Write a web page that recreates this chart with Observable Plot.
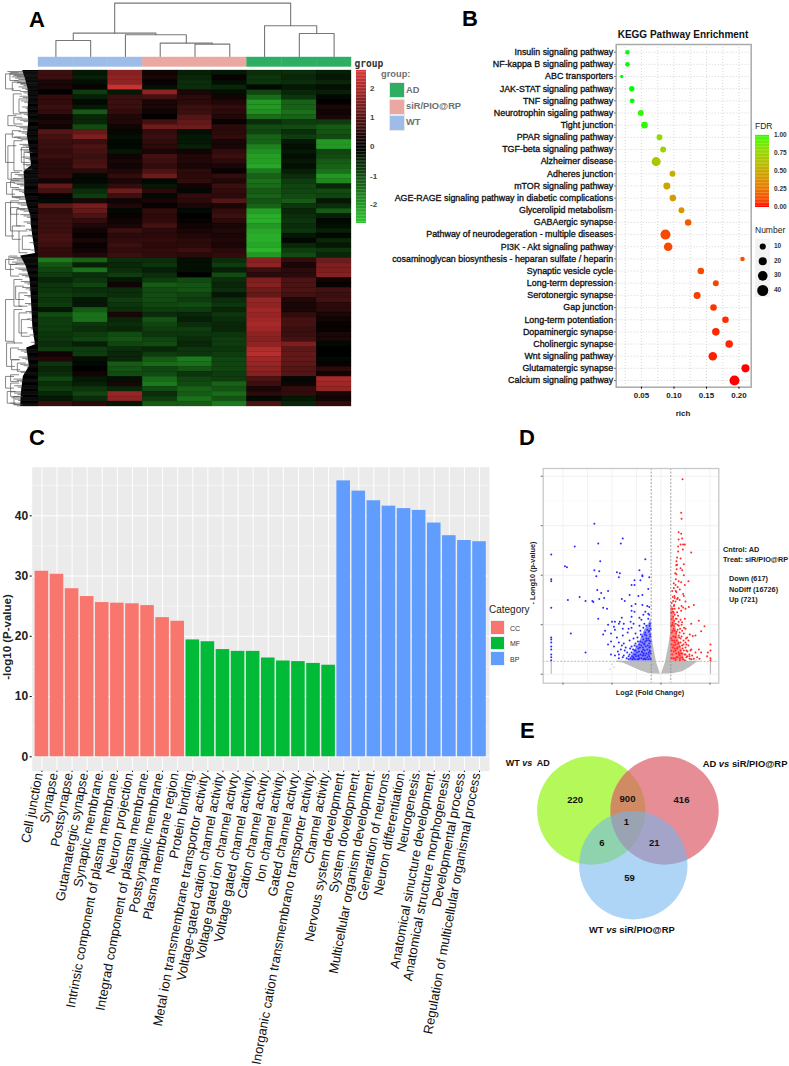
<!DOCTYPE html>
<html><head><meta charset="utf-8">
<script src="https://cdn.jsdelivr.net/npm/d3@7"></script>
<script src="https://cdn.jsdelivr.net/npm/@observablehq/plot@0.6"></script>
<style>
html,body{margin:0;padding:0;background:#fff}
#root{position:relative;width:789px;height:1066px;overflow:hidden;font-family:"Liberation Sans",Arial,sans-serif}
#root svg{position:absolute;display:block}
.t{position:absolute;white-space:pre;line-height:1}
</style></head><body><div id="root"></div>
<script>
// ---------- Panel A data ----------
const heatCols=["WT1","WT2","WT3","S1","S2","S3","AD1","AD2","AD3"];
const heatRows=[
[7,-3,16,2,-4,-3,-6,-6,-4],[7,-4,17,3,-5,1,-7,-5,-3],[3,-2,17,1,-6,-2,-7,-6,-5],[3,1,24,-2,-6,-5,-1,-3,-2],
[0,-8,-3,17,3,-2,-9,-5,-4],[6,-4,7,8,5,2,-14,-7,-1],[6,-1,7,3,5,4,-20,-13,0],[7,-3,7,3,7,6,-20,-13,3],
[6,-12,6,2,7,5,-19,-15,2],[2,-5,4,0,10,4,-14,-13,3],[3,-5,4,8,12,1,-6,-8,-8],[2,-10,2,13,13,5,-10,-10,-12],
[10,12,-1,6,-2,5,-9,-6,-11],[8,15,-2,7,-3,6,-13,-8,-10],[7,7,-1,6,-3,3,-13,-3,-20],[7,9,-1,5,-4,3,-17,-2,-20],
[6,8,-3,3,2,6,-19,-3,-9],[7,7,2,8,4,7,-21,-2,-10],[5,8,3,7,4,5,-21,-3,-12],[5,9,2,6,3,3,-22,-2,-13],
[5,5,4,9,5,1,-16,-4,-15],[6,-1,6,13,5,6,-13,-6,-20],[2,-1,3,-1,6,4,-15,-8,-18],[12,-3,6,-3,2,7,-14,-9,-5],
[8,-6,13,5,-1,6,-12,-9,-10],[1,-8,7,-1,6,5,-13,-10,-9],[-1,3,2,3,5,10,-11,-12,-3],[11,14,4,1,3,3,-13,-7,-6],
[6,12,-1,6,-1,6,-21,-5,-12],[7,9,1,5,0,7,-23,-6,-4],[7,6,2,6,1,5,-23,-7,-1],[7,4,3,8,2,3,-20,-6,-2],
[7,2,7,5,3,4,-22,-7,-4],[8,1,5,5,4,3,-23,-3,-1],[8,3,6,6,5,4,-23,-1,-5],[7,1,7,5,5,3,-22,-5,-3],
[6,2,6,6,7,5,-24,-8,-7],[6,4,7,6,5,6,-20,-10,-5],[-16,-13,-6,-6,-2,-6,16,6,13],[-11,-4,-5,-7,-2,-8,17,3,15],
[-9,-15,-6,-4,-2,-4,7,5,15],[-8,-6,-8,-6,0,-10,5,5,16],[-5,-7,-3,-8,-10,-6,15,9,2],[-7,-9,2,-12,-11,-5,16,9,1],
[-7,-6,-6,-10,-11,-6,13,9,8],[-8,-7,-6,-10,-9,-3,12,8,7],[-7,-3,-8,-10,-8,-6,18,4,8],[-8,-3,-7,-9,-10,-7,17,3,5],
[-3,-12,-6,-8,-8,-5,19,3,5],[-10,-15,3,-6,-5,-7,18,6,3],[-8,-15,-5,-11,-4,-6,19,8,2],[-8,-7,-6,-9,-6,-5,20,8,1],
[-8,-6,-5,-8,-8,-5,19,7,1],[-7,-8,-10,-7,-7,-7,17,7,3],[-7,-9,-11,-9,-6,-8,16,8,3],[-6,-4,-9,-10,-5,-8,17,15,-1],
[-8,-8,-6,-5,-7,-7,21,11,0],[2,-8,-5,-8,-7,-8,22,12,0],[4,-2,-5,-12,-16,-9,19,12,-1],[-7,-1,-12,-14,-15,-9,18,11,1],
[-5,0,-11,-9,-11,-9,17,10,5],[-6,2,-10,-10,-7,-8,16,10,2],[-9,-3,-2,-14,-9,-8,9,-1,20],[-6,-4,3,-16,-10,-13,7,2,19],
[-8,-7,-5,-10,-13,-11,3,6,18],[-5,-9,18,-6,-12,-14,5,6,3],[-3,-6,17,-8,-15,-11,-1,-3,2],[7,5,-3,-12,-12,-16,9,-5,6]];
const groupNames=["WT","WT","WT","siR/PIO@RP","siR/PIO@RP","siR/PIO@RP","AD","AD","AD"];
const groupColors=["#9dbde8","#eba7a2","#2dae62"];
const heatGradient=["#2fc42f","#000000","#d93636"];
// column dendrogram: [x of left child, height left, x of right child, height right, join height]
const colTree=[[0,0,1,0,16],[4,0,5,0,12.4],[3,0,4.5,12.4,13.4],[2,0,3.75,13.4,21.7],[0.5,16,2.875,21.7,23.4],
[7,0,8,0,23],[6,0,7.5,23,30.7],[1.69,23.4,6.75,30.7,53.4]];
// row dendrogram brackets: [depth, row from, row to]
const rowTree=[[15,25,70],[28,22,45],[35,50,75],[38,85,145],[55,100,140],[22,150,180],[40,155,175],[15,205,290],[35,195,215],
[22,240,340],[40,225,315],[62,245,290],[70,260,310],[32,320,345],[18,350,385],[30,345,365],[35,370,395],[15,410,510],[30,405,445],
[30,425,495],[48,430,480],[35,480,520],[55,495,560],[65,510,550],[15,580,610],[25,570,595],[30,595,630],[15,700,825],[40,640,720],
[45,660,700],[55,680,720],[40,730,830],[55,740,800],[62,760,810],[30,845,880],[18,830,900],[33,880,910],[50,890,915],[15,930,965],
[30,925,945],[20,975,1010],[30,950,990],[40,990,1015]];
const combRow=[15,40,70,100,135,170,210,260,300,318,345,385,420,450,480,510,535,562,570,600,640,700,780,835,845,900,930,980,1020];
const combEdge=[66,74,82,84,82,84,80,88,92,70,72,72,80,90,92,96,100,104,60,76,88,92,96,104,78,86,68,62,60];
const hairRow=[18,26,34,46,52,64,78,92,106,124,142,160,182,198,214,236,252,274,296,312,326,338,352,372,392,410,428,446,468,490,508,530,552,574,588,606,624,646,664,688,712,736,758,784,806,828,850,872,894,918,938,958,976,994,1010];
const hairEdge=[22,30,35,42,50,55,60,58,62,66,60,50,48,55,42,58,60,65,68,70,44,38,40,46,36,42,50,60,70,76,82,88,92,30,36,45,55,62,66,72,74,76,80,82,88,92,52,56,60,62,40,42,32,34,30];

// ---------- Panel B data ----------
const pathways=["Insulin signaling pathway","NF-kappa B signaling pathway","ABC transporters","JAK-STAT signaling pathway","TNF signaling pathway","Neurotrophin sigaling pathway","Tight junction","PPAR signaling pathway","TGF-beta signaling pathway","Alzheimer disease","Adheres junction","mTOR signaling pathway","AGE-RAGE signaling pathway in diabetic complications","Glycerolipid metabolism","GABAergic synapse","Pathway of neurodegeration - multiple diseases","PI3K - Akt signaling pathway","cosaminoglycan biosynthesis - heparan sulfate / heparin","Synaptic vesicle cycle","Long-term depression","Serotonergic synapse","Gap junction","Long-term potentiation","Dopaminergic synapse","Cholinergic synapse","Wnt signaling pathway","Glutamatergic synapse","Calcium signaling pathway"];
const rich=[.0285,.0285,.0197,.0351,.0356,.049,.0546,.0777,.0833,.0726,.0977,.089,.0982,.1115,.1218,.0869,.091,.2054,.1413,.1644,.1356,.1608,.1792,.1644,.1849,.1597,.21,.1931];
const numberOfGenes=[4,4,1,7,5,9,12,9,9,26,9,14,12,9,12,33,23,4,12,9,14,12,12,17,17,23,20,33];
const fdr=[1,1,1,1,1,.98,.98,.78,.72,.65,.5,.45,.42,.38,.15,.1,.1,.12,.1,.08,.07,.05,.04,.03,.03,.02,0,0];
const numberKey=[10,20,30,40];
const fdrTicks=[1,.75,.5,.25,0];

// ---------- Panel C data ----------
const goTerms=["Cell junction","Synapse","Postsynapse","Gutamatergic synapse","Synaptic membrane","Intrinsic component of plasma membrane","Neuron projection","Integrad component of plasma membrane","Postsynapilic membrane","Plasma membrane region","Protein binding","Metal ion transmembrane transportor activity","Voltage-gated cation channel activity","Voltage gated ion channel activty","Voltage gated channel activity","Cation channel actvity","Ion channel activity","Gated channel activty","Inorganic cation transmembrano transporter activity","Channel activity","Nervous system development","System dovelopment","Multicellular organism development","Generation of neurons","Neuron differentiation","Neurogenesis","Anatomical sinucture development","Anatomical structure morphogenesis","Developmental process","Regulation of multicellular organismal process"];
const goValues=[30.8,30.3,27.9,26.6,25.6,25.5,25.4,25.1,23.1,22.5,19.4,19.1,17.8,17.5,17.5,16.4,15.9,15.8,15.5,15.2,45.8,44.1,42.5,41.6,41.2,40.9,38.8,36.7,35.9,35.7];
const goCats=["CC","MF","BP"];
const goColors=["#F8766D","#00BA38","#619CFF"];

// ---------- Panel D data ----------
const downX=[-6.8,-3.9,-6.4,-4.1,-8.8,-11.2,-6.2,-1.6,-9.8,-9.6,-6.8,-6.3,-2.2,-4.5,-4.2,-1.9,-11.2,-11.2,-6.6,-4.3,-1.9,-2.7,-2.1,-1.2,-3,-2.7,-1.3,-6.5,-5.4,-6.1,-8.3,-9.5,-7.7,-7,-6.9,-6.3,-5.8,-4,-3.7,-3.2,-2.3,-1.9,-11.2,-5.9,-5.5,-3,-2.6,-1.9,-1.4,-1.2,-3,-2.7,-1.6,-1.3,-6.4,-5,-4.7,-4.2,-4,-3,-2.2,-1.8,-1.2,-5.4,-4.8,-4.3,-3.8,-3.1,-2.8,-2,-1.7,-1.3,-9.2,-5.7,-5.9,-5.1,-4.7,-3.9,-3.3,-3,-2.2,-1.8,-1.5,-1.1,-4.5,-3.9,-3.4,-2.6,-2.1,-1.6,-1.2,-11.2,-11.2,-11.2,-11.2,-11.2,-11.2,-11.2,-11.2,-5.1,-5.4,-4.3,-3.8,-3.2,-2.8,-2.4,-1.9,-1.5,-1.1,-4.8,-4.1,-3.6,-3,-2.6,-2.1,-1.7,-1.2,-7.7,-5.1,-4.7,-4.3,-3.8,-3.2,-2.7,-2.3,-1.8,-1.2,-4.3,-3.3,-2.8,-2.3,-1.8,-1.3,-1.1,-2.3,-1.6,-1.1,-1.9,-2.6,-2.9];
const downY=[15.2,13.7,13.2,13.2,12.9,12.1,11.4,11.6,10.9,10.8,10.5,10.4,10.5,10.3,10.2,10,9.6,9.4,9.9,9.8,9.9,9.5,9.5,9.8,9,9,8.6,8.5,8.4,8.2,7.8,7.5,7.4,7.4,7.3,7.6,7.7,7.6,7.4,8,7.9,8,6.7,6.7,6.6,6.9,7.1,7,6.9,6.8,6.4,6.3,6.3,6.1,5.6,5.3,5.3,5.3,5.7,5.8,5.7,6,6,5,4.8,5.1,5.1,5.3,5.1,5.5,5.1,5.6,4.1,4.4,4,4.1,4.5,4.6,4.6,4.7,4.9,4.7,4.9,5.1,3.7,3.9,4.2,4.1,4.4,4.2,4.4,3.7,3.5,3.2,2.8,2.5,2,1.7,1.4,3.3,3,3.2,3.1,3.4,3.6,3.7,3.8,3.6,4,2.8,2.5,2.7,2.8,3.1,3.3,3.1,3.4,2.2,2,1.9,2,1.9,2,2.4,2.6,2.5,2.7,1.6,1.5,1.7,1.8,1.9,2,2.3,1.5,1.5,1.6,2.2,2,1.5];
const upX=[2.2,2.06,2.1,1.8,2.06,2.16,1.8,2,2.26,2.43,1.75,2.23,1.75,3.08,1.65,2,1.58,1.65,2.33,2,1.6,2.16,1.58,2.33,1.52,1.8,2.06,2.8,1.48,2.43,1.31,1.92,2.26,1.58,1.38,2.33,1.72,1.24,1.48,2.5,3.35,2.84,1.31,1.82,2.26,2.5,1.24,1.65,2.06,2.43,3.86,3.08,2.16,4.44,1.82,2.5,4.1,2.16,2.94,3.25,3.52,2.33,1.82,2.67,1.48,2.5,2.16,1.82,5.05,3.1,3.86,5.05,3.52,4.1,2.6,4.78,3.18,3.69,4.7,5.05,5.05,2.67,2.94,2.16,1.82,2.33,1.48,2,3.35,2.43,3.93,1.92,1.48,1.2,1.5,1.7,1.9,1.3,1.6,2,2.3,2.6,2.8,1.4,1.7,2.2,2.5,2.9,1.3,1.9,1.6,1.4,1.75,2,1.35,1.65,1.2];
const upY=[19.7,16.3,15.7,14.35,14.2,13.7,13.6,13.1,13.1,13.1,12.9,12.6,12.4,12.3,11.8,11.7,11.4,11.05,11.1,10.7,10.6,10.5,10.1,10,9.6,9.4,9.3,9.4,9,9,8.7,8.55,8.1,8.3,7.9,7.9,7.7,7.4,7.35,7.35,7,6.8,6.9,6.65,6.75,6.6,6.3,6.25,6.4,5.6,5.4,5.1,5.25,4.85,4.9,4.6,4.35,4.4,4,3.85,3.9,4.1,3.9,3.7,3.7,3.2,2.9,3.2,3,2.5,2.5,2.4,2.2,2.2,2.4,2.2,1.9,1.7,1.8,1.6,1.4,1.8,1.55,1.7,2.05,2.4,2.4,2.4,1.55,1.4,1.55,1.4,1.4,5.2,5.6,5,4.2,4.6,4.3,3.6,3.4,3,2.9,3.2,2.7,2.1,2,2,2.9,1.9,1.7,6,5.9,5.5,7,7.6,6.6];
const moreDown=[[-1.05,4.6],[-1.05,3.3],[-1.05,2.1],[-1.05,1.5],[-1.1,3.8],[-1.1,2.8],[-1.15,4.9],[-1.15,2.4],[-1.2,3.1],[-1.2,1.8],[-1.25,4.3],[-1.25,2.2],[-1.3,3.6],[-1.3,1.5],[-1.35,2.9],[-1.4,4.5],[-1.4,2.5],[-1.4,1.7],[-1.45,3.4],[-1.5,2.1],[-1.5,3.9],[-1.55,1.5],[-1.55,2.8],[-1.6,3.3],[-1.6,1.9],[-1.65,4],[-1.65,2.4],[-1.7,1.6],[-1.7,3],[-1.75,2.1],[-1.8,3.5],[-1.8,1.5],[-1.85,2.7],[-1.9,1.9],[-1.9,3.2],[-1.95,2.3],[-2,1.6],[-2,2.9],[-2.05,4],[-2.1,2],[-2.15,2.7],[-2.2,1.6],[-2.2,3],[-2.25,2.3],[-2.3,1.9],[-2.35,3.3],[-2.4,1.5],[-2.45,2.2],[-2.5,2.8],[-2.55,1.8],[-2.6,2.4],[-2.65,1.5],[-2.7,2.9],[-2.75,2],[-2.8,1.6],[-2.85,2.5],[-2.95,1.8],[-3,2.2],[-3.1,1.6],[-3.15,2.6],[-3.3,1.8],[-3.45,2.2],[-3.5,1.6],[-3.7,2.4],[-3.9,1.7],[-4,2.9],[-4.4,2.3]];
const moreUp=[[1.05,6.2],[1.05,4.9],[1.05,3.6],[1.05,2.4],[1.05,1.6],[1.1,7.2],[1.1,5.6],[1.1,4.2],[1.1,3],[1.15,6.6],[1.15,5],[1.15,3.4],[1.15,2],[1.2,7.8],[1.2,4.4],[1.2,2.7],[1.25,5.8],[1.25,3.8],[1.25,1.6],[1.3,6.2],[1.3,4.9],[1.3,2.3],[1.35,5.4],[1.35,3.4],[1.4,6.6],[1.4,4.4],[1.4,2.6],[1.45,3.8],[1.45,1.6],[1.5,5.1],[1.5,3],[1.55,4.1],[1.55,2.1],[1.6,5.6],[1.6,3.4],[1.65,2.6],[1.7,4.5],[1.7,1.7],[1.75,3.1],[1.8,5.3],[1.8,2.2],[1.85,3.7],[1.9,2.8],[1.95,4.6],[1.95,1.6],[2,3.2],[2.05,2.1],[2.1,3.8],[2.1,5],[2.2,2.6],[2.25,1.5],[2.3,3],[2.35,4.7],[2.4,2],[2.5,2.7],[2.55,3.6],[2.6,1.7],[2.7,2.3],[2.8,3.4],[2.9,1.8],[3,2.4],[3.1,1.5],[1.15,8.4],[1.3,9.2],[1.5,8.4],[1.45,10.2],[1.7,8.8],[1.9,7.5],[2.1,6.9],[1.55,11],[1.4,7.7]];
const noDiffX=[-5,-4.8,-5.2,-4.4,-3.6,-4,3.6,3.9,2.8,3.2,2.4,1.6,2,-3,-3.4,2.6];
const noDiffY=[1,.7,.5,1.3,1.45,1.5,1.45,1.3,1.6,1.5,1.7,1.5,1.8,1.5,1.6,1.4];
const denseDownX=[-1,-1.3,-1.7,-2.2,-2.8,-3.2], denseDownY=[5.6,5,4.4,3.2,2.2,1.5];
const denseUpX=[1,1.2,1.5,1.8,2.1,2.4], denseUpY=[7,6.8,4.9,3.5,2.6,1.5];
const wingRX=[.05,.46,.8,1,1.001,1.2,2.2,3,3.7], wingRLo=[0,.02,.03,.04,.04,.05,.25,.7,1.2], wingRHi=[0,1.2,2.9,4.2,1.3,1.3,1.3,1.3,1.3];
const wingLX=[-.05,-.46,-.8,-1,-1.001,-1.2,-2.1,-3.8,-4.6], wingLLo=[0,.02,.03,.04,.04,.05,.36,1.1,1.25], wingLHi=[0,1.2,3,4.4,1.3,1.3,1.3,1.3,1.3];

// ---------- Panel E data ----------
const vennSets=[{name:"WT vs AD",cx:590.8,cy:810,c:"#B4F85A",a:1},{name:"AD vs siR/PIO@RP",cx:664,cy:810,c:"#DC5C6A",a:.7},{name:"WT vs siR/PIO@RP",cx:632.8,cy:864.7,c:"#71B5ED",a:.57}];
const vennCounts=[{n:"220",x:574.7,y:799},{n:"900",x:627,y:798},{n:"416",x:681,y:799},{n:"1",x:626,y:821.7},{n:"6",x:601.3,y:842.7},{n:"21",x:653.7,y:842.7},{n:"59",x:629,y:877.7}];

// ---------- helpers ----------
const root=document.getElementById("root");
const FONT='"Liberation Sans",Arial,sans-serif';
const style={background:"transparent",fontFamily:FONT,overflow:"visible"};
function place(el,left,top){el.style.left=left+"px";el.style.top=top+"px";root.append(el);return el;}
function T(x,y,s,o={}){const d=document.createElement("div");d.className="t";d.innerHTML=s;
 const ax=o.anchor==="end"?"-100%":o.anchor==="middle"?"-50%":"0";
 d.style.cssText+=`left:${x}px;top:${y}px;font-size:${o.size||8}px;font-weight:${o.weight||"normal"};color:${o.color||"#111"};font-family:${o.family||FONT};transform:translate(${ax},-50%)${o.rotate?` rotate(${o.rotate}deg)`:""};`;
 root.append(d);return d;}
function swatch(x,y,w,h,c,border){const d=document.createElement("div");d.style.cssText=`position:absolute;left:${x}px;top:${y}px;width:${w}px;height:${h}px;background:${c};${border?`box-sizing:border-box;border:1px solid ${border};`:""}`;root.append(d);}

// panel letters
[["A",29,20],["B",462,19],["C",29,438],["D",519,438],["E",520,731]].forEach(([s,x,y])=>T(x,y,s,{size:22,weight:"bold",color:"#000"}));

// ---------- A: column dendrogram ----------
const colLinks=colTree.flatMap((n,i)=>[{k:i,x:n[0],h:n[1]},{k:i,x:n[0],h:n[4]},{k:i,x:n[2],h:n[4]},{k:i,x:n[2],h:n[3]}]);
place(Plot.plot({width:313,height:56,margin:0,style,x:{domain:[-.5,8.5],range:[0,313],axis:null},y:{domain:[0,56],range:[56,0],axis:null},
 marks:[Plot.line(colLinks,{x:"x",y:"h",z:"k",stroke:"#777",strokeWidth:1.1,curve:"linear"})]}),38,0);
// group colour bar
place(Plot.plot({width:313,height:9.5,margin:0,style,x:{domain:heatCols,range:[0,313],padding:0,round:false,axis:null},y:{axis:null},
 color:{domain:["WT","siR/PIO@RP","AD"],range:groupColors},
 marks:[Plot.barY(heatCols.map((c,i)=>({c,g:groupNames[i]})),{x:"c",y:()=>1,fill:"g",insetLeft:0,insetRight:0,stroke:"g",strokeWidth:.4})]}),38,57);
// heat map
const heatData=heatRows.flatMap((r,i)=>r.map((v,j)=>({row:i,col:heatCols[j],v:v/10})));
const heatColor={type:"linear",domain:[-2.6,0,2.6],range:heatGradient,interpolate:"rgb"};
place(Plot.plot({width:313,height:336,margin:0,style:{...style,background:"#000"},
 x:{domain:heatCols,range:[0,313],padding:0,round:false,axis:null},y:{domain:heatRows.map((_,i)=>i),range:[0,336],padding:0,round:false,axis:null},color:heatColor,
 marks:[Plot.cell(heatData,{x:"col",y:"row",fill:"v",stroke:"v",strokeWidth:.3,inset:0})]}),38,70);
// row dendrogram
const rowLinks=rowTree.flatMap((b,i)=>{const e=Math.min(113,b[0]+24);return [{k:i,x:e,y:b[1]},{k:i,x:b[0],y:b[1]},{k:i,x:b[0],y:b[2]},{k:i,x:e,y:b[2]}];});
const hairs=[0,4,8].flatMap(o=>hairRow.map((r,i)=>({r:r+o,e:Math.min(110,hairEdge[i]+o*2.5)})));
place(Plot.plot({width:38,height:336,margin:0,style,x:{domain:[0,113],range:[0,38],axis:null},y:{domain:[15,1020],range:[0,336],axis:null},
 marks:[Plot.areaX(combRow.map((y,i)=>({y,e:combEdge[i]})),{y:"y",x1:"e",x2:()=>113,fill:"#000"}),
  Plot.ruleY(hairs,{y:"r",x1:"e",x2:()=>113,stroke:"#222",strokeWidth:.55}),
  Plot.line(rowLinks,{x:"x",y:"y",z:"k",stroke:"#555",strokeWidth:.7,curve:"linear"})]}),0,70);
// heat colour key
place(Plot.plot({width:10,height:153,margin:0,style,x:{domain:[0,1],range:[0,10],axis:null},y:{domain:[-2.6,2.65],range:[153,0],axis:null},color:heatColor,
 marks:[Plot.rect(d3.range(-2.6,2.65,.05),{x1:()=>0,x2:()=>1,y1:d=>d,y2:d=>d+.055,fill:d=>d})]}),356,70);
[[2,89],[1,118],[0,147],[-1,177],[-2,205]].forEach(([v,y])=>T(370,y,String(v),{size:8,weight:"bold",color:"#444"}));
T(354.5,63.5,"group",{size:9.6,weight:"bold",family:'"DejaVu Sans Mono",monospace',color:"#333"});
T(381,75,"group:",{size:9.3,weight:"bold",color:"#6f6f6f"});
groupColors.slice().reverse().forEach((c,i)=>swatch(388.5,82+i*16.5,16,16,c,"#e8e8e8"));
[["AD",90.5],["siR/PIO@RP",106.5],["WT",123]].forEach(([s,y])=>T(406,y,s,{size:9.3,weight:"bold",color:"#6f6f6f"}));

// ---------- B: bubble chart ----------
const bData=pathways.map((p,i)=>({p,rich:rich[i],n:numberOfGenes[i],fdr:fdr[i]}));
const fdrColor={type:"linear",domain:[0,1],range:["#ff0000","#00ff00"],interpolate:d3.interpolateLab};
const rScale={type:"pow",exponent:.6,domain:[0,40],range:[1.2,5.5]};
const minor=d3.range(.025,.22,.025);
const bPlot=Plot.plot({width:409,height:385,marginLeft:235.7,marginRight:38.3,marginTop:19,marginBottom:23.3,style,
 x:{domain:[.0111,.2188],axis:null},y:{type:"point",domain:pathways,range:[26.7,355],padding:0,round:false,axis:null},color:fdrColor,r:rScale,
 marks:[
  Plot.ruleX(minor,{stroke:"#ccc",strokeDasharray:"1,2",strokeWidth:.8}),
  Plot.ruleY(pathways,{stroke:"#ccc",strokeDasharray:"1,2",strokeWidth:.8}),
  Plot.dot(bData,{x:"rich",y:"p",r:"n",fill:"fdr"}),
  Plot.frame({stroke:"#aaa",strokeWidth:1.5}),
  Plot.axisY({anchor:"left",tickSize:1.5,tickPadding:1.5,fontSize:8.9,fill:"#111",stroke:"#555",label:null,ticks:pathways}),
  Plot.axisX({anchor:"bottom",ticks:[.05,.1,.15,.2],tickFormat:".2f",tickSize:2,tickPadding:3,fontSize:8,fontWeight:"bold",fill:"#222",label:null})
 ]});
d3.select(bPlot).selectAll('g[aria-label="y-axis tick label"] text').attr("stroke","#111").attr("stroke-width",.32);
place(bPlot,380,25);
T(683,35,"KEGG Pathway Enrichment",{size:10,weight:"bold",anchor:"middle"});
T(683,414,"rich",{size:8,weight:"bold",anchor:"middle",color:"#222"});
T(755,126,"FDR",{size:8.5,color:"#222"});
place(Plot.plot({width:14,height:72,margin:0,style,x:{domain:[0,1],range:[0,14],axis:null},y:{domain:[0,1],range:[72,0],axis:null},color:fdrColor,
 marks:[Plot.rect(d3.range(0,1,.02),{x1:()=>0,x2:()=>1,y1:d=>d,y2:d=>d+.022,fill:d=>d})]}),755,135);
fdrTicks.forEach(v=>T(774,135+(1-v)*72,v.toFixed(2),{size:6.5,weight:"bold",color:"#333"}));
T(755,230,"Number",{size:8.5,color:"#222"});
swatch(755,239,14.5,58,"#f2f2f2");
place(Plot.plot({width:14.5,height:58,margin:0,style,x:{domain:[0,1],range:[0,14.5],axis:null},y:{type:"point",domain:numberKey,range:[7,51],padding:0,round:false,axis:null},r:rScale,
 marks:[Plot.dot(numberKey,{x:()=>.5,y:d=>d,r:d=>d,fill:"#000"})]}),755,239);
numberKey.forEach((v,i)=>T(774,246+i*14.6,String(v),{size:6.5,weight:"bold",color:"#333"}));

// ---------- C: bars ----------
const cData=goTerms.map((t,i)=>({t,v:goValues[i],cat:goCats[Math.floor(i/10)]}));
const tenths=d3.range(0,50,10), fives=d3.range(5,50,10);
const cPlot=Plot.plot({width:500,height:606,marginLeft:31.7,marginRight:11,marginTop:6.7,marginBottom:295.3,style,
 x:{type:"band",domain:goTerms,range:[33.1,487.3],padding:.1,round:false,axis:null},y:{domain:[-2.39,48.07],axis:null},
 color:{domain:goCats,range:goColors},
 marks:[
  Plot.frame({fill:"#ebebeb",stroke:null}),
  Plot.ruleY(fives,{stroke:"#fff",strokeWidth:.5}),
  Plot.ruleY(tenths,{stroke:"#fff",strokeWidth:1}),
  Plot.ruleX(goTerms,{stroke:"#fff",strokeWidth:1}),
  Plot.barY(cData,{x:"t",y:"v",fill:"cat"}),
  Plot.axisY({ticks:tenths,tickSize:2,tickPadding:2,fontSize:12,fontWeight:"bold",fill:"#222",label:null}),
  Plot.axisX({ticks:goTerms,tickRotate:-79.5,tickSize:1.2,tickPadding:3.3,fontSize:13,fill:"#111",label:null})
 ]});
d3.select(cPlot).selectAll('g[aria-label="x-axis tick label"]').attr("transform","translate(4,2.5)");
place(cPlot,0,460);
T(7.5,637,"-log10 (P-value)",{size:11.5,weight:"bold",anchor:"middle",rotate:-90,color:"#222"});
T(489,610,"Category",{size:10,color:"#222"});
goColors.forEach((c,i)=>{swatch(490,620+i*15.6,14.5,14.5,c,"#f0f0f0");T(510,627.5+i*15.6,goCats[i],{size:7,color:"#333"});});

// ---------- D: volcano ----------
const zipXY=(xs,ys)=>xs.map((x,i)=>({x,y:ys[i]}));
const wing=(xs,lo,hi)=>xs.map((x,i)=>({x,lo:lo[i],hi:hi[i]}));
const pair=a=>a.map(([x,y])=>({x,y}));
place(Plot.plot({width:210,height:235,marginLeft:22.7,marginRight:11.7,marginTop:8,marginBottom:12.3,style,
 x:{domain:[-12.02,5.9],axis:null},y:{domain:[-.91,20.78],axis:null},
 marks:[
  Plot.ruleX([-10,-7.5,-5,-2.5,0,2.5,5],{stroke:"#f2f2f2",strokeWidth:1}),
  Plot.ruleY([0,5,10,15,20],{stroke:"#f0f0f0",strokeWidth:1}),
  Plot.ruleY([2.5,7.5,12.5,17.5],{stroke:"#f7f7f7",strokeWidth:.6}),
  Plot.areaY(wing(wingRX,wingRLo,wingRHi),{x:"x",y1:"lo",y2:"hi",fill:"#bdbdbd"}),
  Plot.areaY(wing(wingLX,wingLLo,wingLHi),{x:"x",y1:"lo",y2:"hi",fill:"#bdbdbd"}),
  Plot.ruleX([-11.2,5.05],{y1:()=>0,y2:()=>1.3,stroke:"#bdbdbd",strokeWidth:1.2}),
  Plot.dot(zipXY(noDiffX,noDiffY),{x:"x",y:"y",r:.7,fill:"#c4c4c4"}),
  Plot.areaY(zipXY(denseDownX,denseDownY),{x:"x",y1:()=>1.3,y2:"y",fill:"#2a2aff",fillOpacity:.5}),
  Plot.areaY(zipXY(denseUpX,denseUpY),{x:"x",y1:()=>1.3,y2:"y",fill:"#ff2a2a",fillOpacity:.55}),
  Plot.dot(zipXY(downX,downY),{x:"x",y:"y",r:1,fill:"#2a2aff"}),
  Plot.dot(pair(moreDown),{x:"x",y:"y",r:1,fill:"#2a2aff"}),
  Plot.dot(zipXY(upX,upY),{x:"x",y:"y",r:1,fill:"#ff2a2a"}),
  Plot.dot(pair(moreUp),{x:"x",y:"y",r:1,fill:"#ff2a2a"}),
  Plot.ruleX([-1,1],{stroke:"#888",strokeWidth:.8,strokeDasharray:"2,1.5"}),
  Plot.ruleY([1.3],{stroke:"#aaa",strokeWidth:.8,strokeDasharray:"2,1.5"}),
  Plot.frame({stroke:"#c8c8c8",strokeWidth:1.3}),
  Plot.axisX({ticks:[-10,-5,0,5],tickSize:2,tickFormat:()=>"",label:null,stroke:"#666"}),
  Plot.axisY({ticks:[0,5,10,15,20],tickSize:2,tickFormat:()=>"",label:null,stroke:"#666"})
 ]}),520,460);
T(533,573,"- Long10 (p-value)",{size:7.3,weight:"bold",anchor:"middle",rotate:-90,color:"#222"});
T(650,692.7,"Log2 (Fold Change)",{size:7.3,weight:"bold",anchor:"middle",color:"#222"});
T(723,549.5,"Cntrol: AD",{size:7.3,weight:"bold",color:"#222"});
T(723,559.5,"Treat: siR/PIO@RP",{size:7.3,weight:"bold",color:"#222"});
T(729,579,"Down (617)",{size:7.3,weight:"bold",color:"#222"});
T(729,589.5,"NoDiff (16726)",{size:7.3,weight:"bold",color:"#222"});
T(729,600,"Up (721)",{size:7.3,weight:"bold",color:"#222"});

// ---------- E: Venn ----------
place(Plot.plot({width:289,height:220,margin:0,style,x:{domain:[500,789],range:[0,289],axis:null},y:{domain:[740,960],range:[0,220],axis:null},
 marks:[
  ...vennSets.map(s=>Plot.dot([s],{x:"cx",y:"cy",r:54.2,fill:"c",fillOpacity:"a",stroke:null})),
  Plot.text(vennCounts,{x:"x",y:"y",text:"n",fontSize:9.5,fontWeight:"bold",fill:"#111"})
 ]}),500,740);
const vs=(a,b)=>`${a} <i>vs</i>  ${b}`;
T(505.7,763,vs("WT","AD"),{size:9,weight:"bold"});
T(702.7,764,vs("AD","siR/PIO@RP").replace("  "," "),{size:9.4,weight:"bold"});
T(589,929.5,vs("WT","siR/PIO@RP").replace("  "," "),{size:9.4,weight:"bold"});
</script></body></html>
